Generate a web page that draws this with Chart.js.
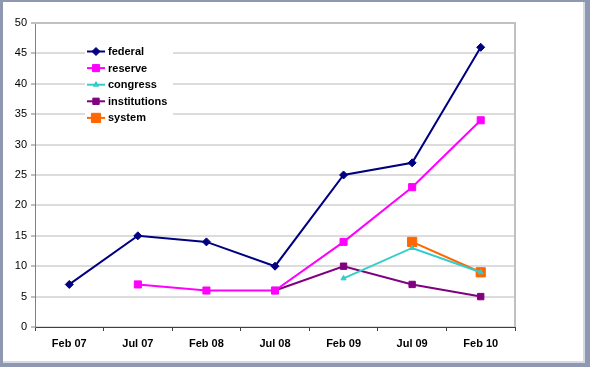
<!DOCTYPE html>
<html>
<head>
<meta charset="utf-8">
<script src="https://cdn.jsdelivr.net/npm/chart.js@4.4.1/dist/chart.umd.min.js"></script>
<style>
  html, body { margin: 0; padding: 0; background: #ffffff; }
  canvas { display: block; }
</style>
</head>
<body>
<canvas id="chart" width="590" height="367"></canvas>
<script>
// data
var labels = ['Feb 07', 'Jul 07', 'Feb 08', 'Jul 08', 'Feb 09', 'Jul 09', 'Feb 10'];
var federal = [7, 15, 14, 10, 25, 27, 46];
var reserve = [null, 7, 6, 6, 14, 23, 34];
var congress = [null, null, null, null, 8, 13, 9];
var institutions = [null, null, null, 6, 10, 7, 5];
var system = [null, null, null, null, null, 14, 9];
var yTicks = [0, 5, 10, 15, 20, 25, 30, 35, 40, 45, 50];

function serie(label, data, color, style, radius) {
    return {
        label: label,
        data: data,
        borderColor: color,
        backgroundColor: color,
        borderWidth: 2,
        pointStyle: style,
        pointRadius: radius,
        pointHoverRadius: radius,
        pointBorderWidth: 1,
        tension: 0,
        spanGaps: false
    };
}

// frame around the chart (grey-blue border)
var framePlugin = {
    id: 'frame',
    beforeDraw: function (chart) {
        var c = chart.ctx;
        c.save();
        c.fillStyle = '#8f98b1';
        c.fillRect(0, 0, chart.width, chart.height);
        c.fillStyle = '#d5d9e3';
        c.fillRect(3, 2, 582, 361);
        c.fillStyle = '#ffffff';
        c.fillRect(3, 2, 580, 359);
        c.restore();
    },
    afterDraw: function (chart) {
        var a = chart.chartArea;
        var c = chart.ctx;
        c.save();
        // right and top edge of plot
        c.strokeStyle = '#c0c0c0';
        c.lineWidth = 2;
        c.beginPath();
        c.moveTo(a.left, a.top);
        c.lineTo(a.right, a.top);
        c.lineTo(a.right, a.bottom);
        c.stroke();

        // legend box inside plot
        c.fillStyle = '#ffffff';
        c.fillRect(85, 43, 88, 83);
        var y0 = 51.5, step = 16.6;
        chart.data.datasets.forEach(function (ds, i) {
            var y = y0 + i * step;
            c.strokeStyle = ds.borderColor;
            c.lineWidth = 2;
            c.beginPath();
            c.moveTo(87, y);
            c.lineTo(105, y);
            c.stroke();
            if (Chart.helpers && Chart.helpers.drawPoint) {
                c.fillStyle = ds.backgroundColor;
                c.strokeStyle = ds.borderColor;
                c.lineWidth = 1;
                Chart.helpers.drawPoint(c, { pointStyle: ds.pointStyle, radius: ds.pointRadius, borderWidth: 1 }, 96, y);
            }
            c.fillStyle = '#000000';
            c.font = 'bold 11px "Liberation Sans", Arial, sans-serif';
            c.textBaseline = 'middle';
            c.textAlign = 'left';
            c.fillText(ds.label, 108, y + 0.5);
        });
        c.restore();
    }
};

var chart = new Chart(document.getElementById('chart'), {
    type: 'line',
    data: {
        labels: labels,
        datasets: [
            serie('federal', federal, '#000080', 'rectRot', 4),
            serie('reserve', reserve, '#ff00ff', 'rect', 5),
            serie('congress', congress, '#33cccc', 'triangle', 3),
            serie('institutions', institutions, '#800080', 'rect', 4.5),
            serie('system', system, '#ff6600', 'rect', 6.5)
        ]
    },
    options: {
        responsive: false,
        animation: false,
        layout: { padding: { left: 0, top: 23, right: 75, bottom: 0 } },
        plugins: {
            legend: { display: false },
            tooltip: { enabled: false }
        },
        scales: {
            x: {
                offset: true,
                afterFit: function (s) { s.height = 40; },
                grid: {
                    offset: true,
                    drawOnChartArea: false,
                    drawTicks: true,
                    tickLength: 4,
                    tickColor: '#404040',
                    tickWidth: 1
                },
                border: { color: '#404040', width: 1 },
                ticks: {
                    padding: 6,
                    color: '#000000',
                    maxRotation: 0,
                    font: { family: '"Liberation Sans", Arial, sans-serif', size: 11, weight: 'bold' }
                }
            },
            y: {
                min: 0,
                max: 50,
                afterFit: function (s) { s.width = 35; },
                afterBuildTicks: function (s) {
                    s.ticks = yTicks.map(function (v) { return { value: v }; });
                },
                grid: {
                    color: '#dcdcdc',
                    lineWidth: 2,
                    drawTicks: true,
                    tickLength: 4,
                    tickColor: '#808080',
                    tickWidth: 1
                },
                border: { color: '#808080', width: 1 },
                ticks: {
                    padding: 4,
                    color: '#000000',
                    font: { family: '"Liberation Sans", Arial, sans-serif', size: 11 }
                }
            }
        }
    },
    plugins: [framePlugin]
});
</script>
</body>
</html>
